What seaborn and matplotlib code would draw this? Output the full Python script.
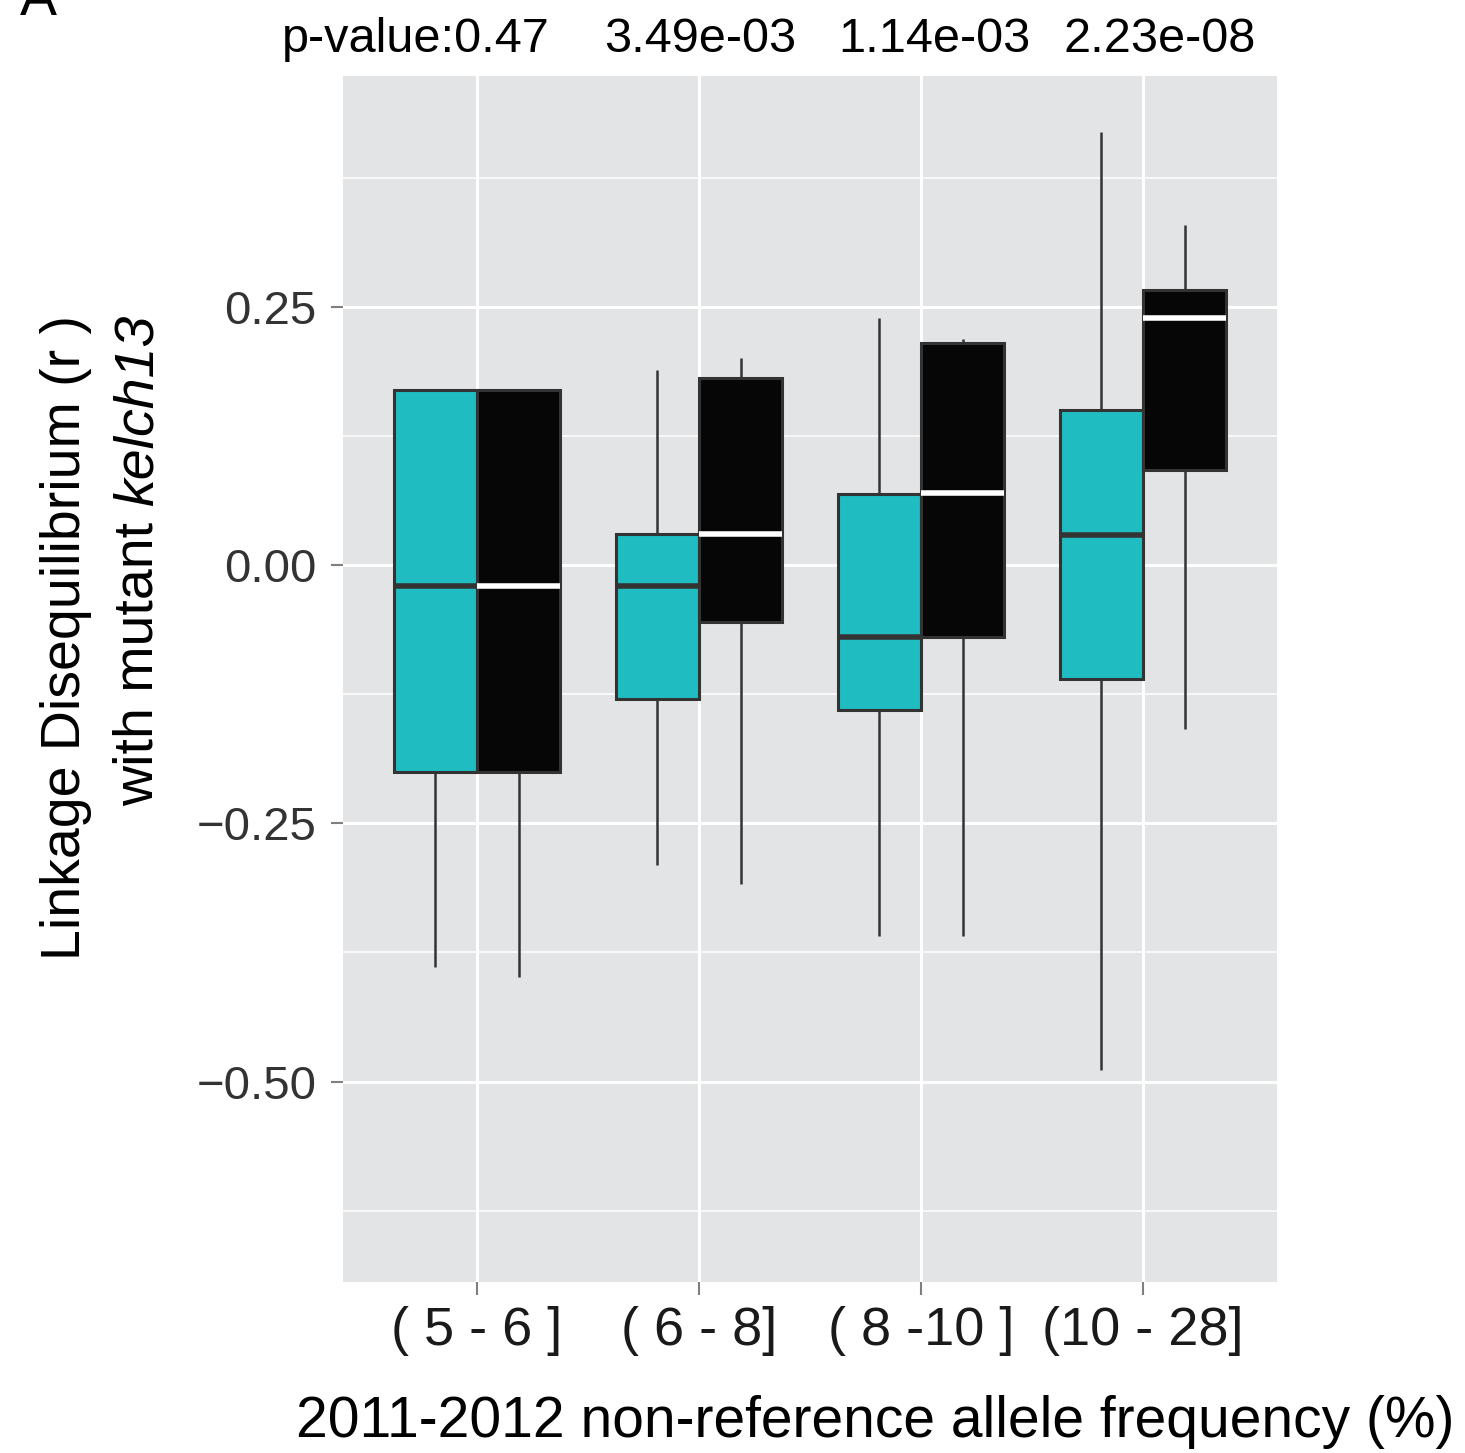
import numpy as np
import pandas as pd
import matplotlib
matplotlib.use("Agg")
import matplotlib.pyplot as plt
import seaborn as sns
from matplotlib.ticker import MultipleLocator, FuncFormatter

# ---------------- data ----------------
bins = ["( 5 - 6 ]", "( 6 - 8]", "( 8 -10 ]", "(10 - 28]"]
groups = ["teal", "black"]
p_values = ["p-value:0.47", "3.49e-03", "1.14e-03", "2.23e-08"]

# five-number summaries per bin: whisker low, Q1, median, Q3, whisker high
teal_low = [-0.389, -0.290, -0.359, -0.489]
teal_q1 = [-0.200, -0.130, -0.140, -0.110]
teal_med = [-0.020, -0.020, -0.070, 0.029]
teal_q3 = [0.169, 0.030, 0.069, 0.150]
teal_high = [0.169, 0.189, 0.239, 0.419]

black_low = [-0.399, -0.309, -0.359, -0.159]
black_q1 = [-0.200, -0.055, -0.070, 0.092]
black_med = [-0.020, 0.030, 0.070, 0.239]
black_q3 = [0.169, 0.181, 0.215, 0.266]
black_high = [0.169, 0.200, 0.219, 0.329]

rows = []
for i, b in enumerate(bins):
    for g, arrs in (("teal", (teal_low, teal_q1, teal_med, teal_q3, teal_high)),
                    ("black", (black_low, black_q1, black_med, black_q3, black_high))):
        for a in arrs:
            rows.append({"bin": b, "group": g, "r": a[i]})
df = pd.DataFrame(rows)

# ---------------- style ----------------
sns.set_theme(style="darkgrid")
plt.rcParams["font.family"] = ["Liberation Sans", "DejaVu Sans"]

W, H = 1465, 1453
fig = plt.figure(figsize=(W / 100, H / 100), dpi=100)
ax = fig.add_axes([343 / W, 1 - 1282 / H, (1277 - 343) / W, (1282 - 76) / H])

TEAL = "#1FBCC1"
BLACK = "#060606"
EDGE = "#333333"

sns.boxplot(data=df, x="bin", y="r", hue="group", order=bins, hue_order=groups,
            palette={"teal": TEAL, "black": BLACK}, width=0.75, gap=0,
            whis=(0, 100), showcaps=False, saturation=1, linecolor=EDGE,
            linewidth=2.2, dodge=True, legend=False, ax=ax,
            medianprops=dict(linewidth=4.0, solid_capstyle="butt"),
            whiskerprops=dict(linewidth=1.8))

# recolor medians: white on black boxes
for ln in ax.lines:
    xd = np.asarray(ln.get_xdata(), dtype=float)
    yd = np.asarray(ln.get_ydata(), dtype=float)
    if len(xd) == 2 and yd[0] == yd[1] and xd[0] != xd[1]:
        xc = xd.mean()
        ln.set_color("white" if xc > round(xc) else EDGE)
        ln.set_zorder(5)

ax.set_facecolor("#E3E4E6")
ax.set_xlim(-0.604, 3.604)
ax.set_ylim(-0.694, 0.4734)
ax.yaxis.set_major_locator(MultipleLocator(0.25))
ax.yaxis.set_minor_locator(MultipleLocator(0.125))
ax.yaxis.set_major_formatter(FuncFormatter(lambda v, p: f"{v:.2f}".replace("-", "\u2212")))
ax.set_axisbelow(True)
ax.grid(which="major", color="white", linewidth=2.2)
ax.grid(which="minor", axis="y", color="white", linewidth=1.1)
for s in ax.spines.values():
    s.set_visible(False)

ax.tick_params(axis="both", which="major", length=9, width=1.5, color="#7f7f7f",
               bottom=True, left=True)
ax.tick_params(axis="y", which="major", labelsize=34, labelcolor="#333333", pad=10)
ax.tick_params(axis="x", which="major", labelsize=39, labelcolor="#1a1a1a", pad=8)
ax.tick_params(which="minor", length=0, left=False, bottom=False)
ax.set_xlabel("")
ax.set_ylabel("")

# p-values above the panel
p_x = [-0.275, 1.005, 2.059, 3.077]
for x, t in zip(p_x, p_values):
    ax.text(x, 0.4734 + (76 - 52) / 1033, t, ha="center", va="baseline",
            fontsize=35, color="black", clip_on=False)

# axis titles
fig.text(875 / W, 1 - 1437 / H, "2011-2012 non-reference allele frequency (%)",
         ha="center", va="baseline", fontsize=41, color="black")
fig.text(80 / W, 1 - 315 / H, "Linkage Disequilibrium (r )", rotation=90,
         rotation_mode="anchor", ha="right", va="baseline", fontsize=40, color="black")

# second y-label line: "with mutant " + italic "kelch13"
renderer = fig.canvas.get_renderer()
t_it = fig.text(153 / W, 1 - 315 / H, "kelch13", rotation=90, rotation_mode="anchor",
                ha="right", va="baseline", fontsize=40, style="italic", color="black")
ext = t_it.get_window_extent(renderer=renderer)
fig.text(153 / W, 1 - (315 + ext.height) / H, "with mutant ", rotation=90,
         rotation_mode="anchor", ha="right", va="baseline", fontsize=40, color="black")

# panel letter
fig.text(38 / W, 1 - 15 / H, "A", ha="center", va="baseline", fontsize=40, color="black")

fig.savefig("out.png", dpi=100)
